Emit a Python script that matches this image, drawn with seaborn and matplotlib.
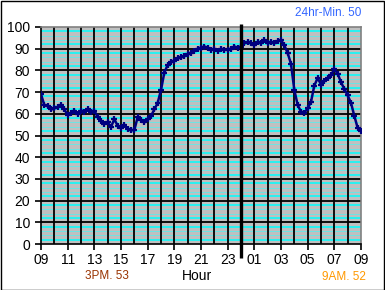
import numpy as np
import pandas as pd
import matplotlib
matplotlib.use("Agg")
import matplotlib.pyplot as plt
import seaborn as sns
from matplotlib.patches import Rectangle

# ---- data ----
hours = np.arange(0, 24.01, 0.25)  # hours since 09:00
humidity = [69, 64, 63.5, 62, 62.5, 63, 64, 62, 59.5, 60.5, 61.5, 60,
            61.5, 61, 62, 61, 61.5, 58.5, 56.5, 55.5, 56, 54, 57.5, 54.5,
            53.5, 55, 53, 52.5, 52.5, 58.5, 57, 56, 57.5, 59, 62, 65,
            71, 79, 82.5, 84, 84.5, 85.5, 86, 86.5, 87.5, 88, 89, 90,
            90.5, 91, 90.5, 89.5, 90, 89, 90, 89.5, 89.5, 90, 91, 90.5,
            91, 92.5, 93, 92.5, 91.5, 93, 92.5, 94, 92.5, 93, 92.5, 93.5,
            94, 91.5, 88, 83, 71, 64, 61, 60.5, 62.5, 65.5, 73, 76.5,
            73.5, 75, 76.5, 78, 80.5, 78.5, 74.5, 71.5, 68.5, 65, 59, 53.5,
            52]
xtick_pos = [0, 2, 4, 6, 8, 10, 12, 14, 16, 18, 20, 22, 24]
xtick_labels = ["09", "11", "13", "15", "17", "19", "21", "23", "01", "03", "05", "07", "09"]
ytick_vals = [0, 10, 20, 30, 40, 50, 60, 70, 80, 90, 100]
midnight = 15
title_text = "24hr-Min. 50"
left_text = "3PM. 53"
right_text = "9AM. 52"
xlabel = "Hour"

df = pd.DataFrame({"hour": hours, "value": humidity})

plt.rcParams['font.family'] = ['Liberation Sans', 'DejaVu Sans']

fig = plt.figure(figsize=(3.85, 2.9), dpi=100)
fig.patch.set_facecolor("white")
ax = fig.add_axes([41/385, 46/290, 320/385, 217/290])
ax.set_facecolor("#c0c0c0")

# minor cyan lines
for base in range(0, 100, 10):
    for off, lw, col in [(2, 1.1, "#00ffff"), (4, 0.6, "#60eaea"), (6, 0.6, "#60eaea"), (8, 1.1, "#00ffff")]:
        ax.axhline(base + off, color=col, lw=lw, zorder=1)
# major black lines
for v in ytick_vals[1:-1]:
    ax.axhline(v, color="black", lw=1.3, zorder=2)
for h in range(1, 24):
    ax.axvline(h, color="black", lw=1.3, zorder=2)

sns.lineplot(data=df, x="hour", y="value", ax=ax, color="#000080",
             lw=1.8, marker="+", markersize=5, markeredgewidth=1.6,
             markeredgecolor="#000080", zorder=5)

ax.plot([midnight, midnight], [-6.3, 101.3], color="black", lw=2.4,
        clip_on=False, zorder=6, solid_capstyle="butt")

ax.set_xlim(0, 24)
ax.set_ylim(0, 100)
ax.set_xticks(xtick_pos)
ax.set_xticklabels(xtick_labels)
ax.set_yticks(ytick_vals)
ax.tick_params(axis="both", direction="out", length=4, width=1.2, colors="black",
               labelsize=10)
ax.tick_params(axis="x", pad=2.5)
ax.tick_params(axis="y", pad=4)
ax.set_xlabel("")
ax.set_ylabel("")
for s in ["top", "right"]:
    ax.spines[s].set_color("#808080")
    ax.spines[s].set_linewidth(1.2)
for s in ["left", "bottom"]:
    ax.spines[s].set_color("black")
    ax.spines[s].set_linewidth(1.2)

fig.text(197/385, 1 - 276.5/290, xlabel, ha="center", va="center", fontsize=10, color="black")
fig.text(107/385, 1 - 276/290, left_text, ha="center", va="center", fontsize=8.5, color="#993300")
fig.text(344/385, 1 - 277/290, right_text, ha="center", va="center", fontsize=8.5, color="#ff9900")
fig.text(328/385, 1 - 13.5/290, title_text, ha="center", va="center", fontsize=8.5, color="#3366ff")

fig.patches.append(Rectangle((0.5/385, 0.5/290), 383.5/385, 288.5/290, transform=fig.transFigure,
                             fill=False, edgecolor="black", lw=1.0))

fig.savefig("out.png", dpi=100)
